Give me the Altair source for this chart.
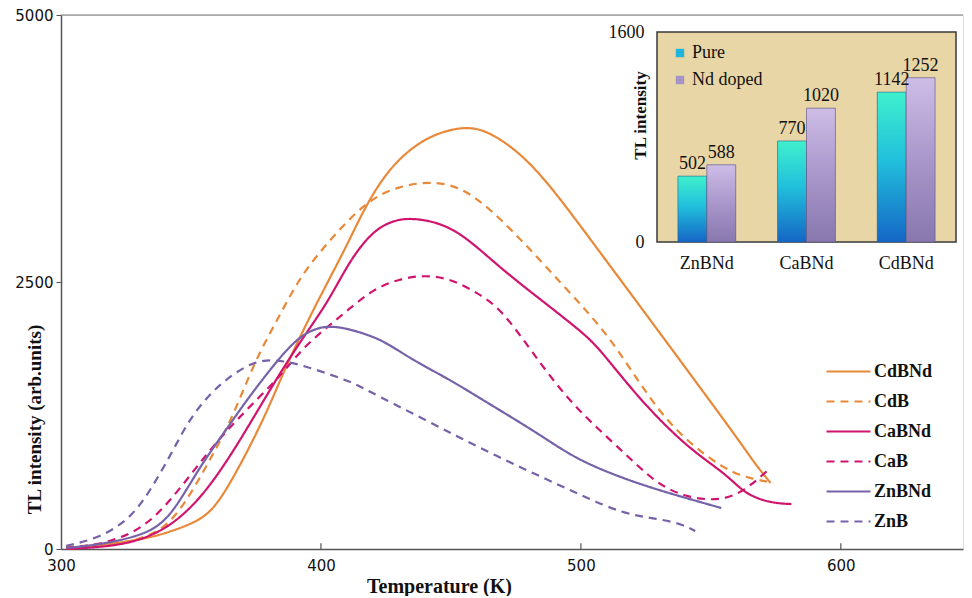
import altair as alt
import pandas as pd

# ---------------- main TL glow curves ----------------
series_names = ["CdBNd", "CdB", "CaBNd", "CaB", "ZnBNd", "ZnB"]
series_colors = ["#e8893a", "#e8893a", "#d0146e", "#d0146e", "#7662a8", "#7662a8"]
series_dash = [[1, 0], [8, 6], [1, 0], [8, 6], [1, 0], [8, 6]]

cdbnd_T = [302, 310, 320, 334, 343, 353, 360, 370, 379, 386, 393, 400, 410, 418, 428, 440, 450, 457, 465, 481, 500, 507, 525, 544, 561, 567, 573]
cdbnd_I = [0, 20, 50, 103, 170, 262, 400, 830, 1270, 1680, 2040, 2380, 2840, 3258, 3620, 3848, 3930, 3950, 3910, 3633, 3020, 2790, 2200, 1573, 1011, 796, 618]

cdb_T = [302, 310, 321, 327, 340, 350, 357, 364, 370, 376, 383, 391, 400, 417, 430, 443, 456, 473, 494, 511, 526, 539, 556, 566, 574]
cdb_I = [20, 30, 47, 75, 169, 515, 824, 1133, 1479, 1826, 2135, 2509, 2800, 3258, 3400, 3446, 3380, 3006, 2444, 2000, 1414, 1039, 730, 655, 620]

cabnd_T = [302, 310, 325, 340, 353, 364, 374, 384, 393, 403, 411, 420, 428, 435, 445, 455, 469, 484, 500, 507, 522, 541, 556, 563, 573, 581]
cabnd_I = [0, 10, 40, 169, 449, 824, 1227, 1638, 1976, 2322, 2700, 2980, 3080, 3099, 3060, 2940, 2631, 2345, 2041, 1882, 1414, 946, 702, 515, 430, 421]

cab_T = [302, 315, 327, 336, 346, 356, 366, 376, 385, 393, 402, 411, 420, 430, 440, 450, 460, 469, 481, 496, 516, 529, 541, 554, 563, 572]
cab_I = [10, 40, 140, 290, 571, 890, 1170, 1414, 1638, 1882, 2069, 2250, 2430, 2530, 2566, 2530, 2400, 2257, 1854, 1358, 918, 609, 478, 450, 543, 740]

znbnd_T = [302, 315, 334, 343, 353, 364, 372, 383, 391, 398, 404, 411, 420, 426, 436, 450, 461, 484, 499, 522, 540, 554]
znbnd_I = [10, 40, 140, 328, 758, 1133, 1414, 1760, 1976, 2069, 2088, 2060, 1990, 1919, 1760, 1580, 1414, 1077, 824, 609, 480, 384]

znb_T = [302, 315, 327, 335, 343, 349, 357, 366, 376, 386, 394, 411, 416, 441, 461, 484, 500, 516, 530, 538, 544]
znb_I = [30, 103, 290, 571, 918, 1199, 1451, 1638, 1779, 1760, 1713, 1573, 1508, 1198, 946, 683, 505, 330, 280, 240, 169]

x_ticks_inner = [400, 500, 600]

# ---------------- inset bar data ----------------
inset_categories = ["ZnBNd", "CaBNd", "CdBNd"]
inset_series = ["Pure", "Nd doped"]
pure_values = [502, 770, 1142]
nd_values = [588, 1020, 1252]

# ---------------- build tables ----------------
curves = {
    "CdBNd": (cdbnd_T, cdbnd_I),
    "CdB": (cdb_T, cdb_I),
    "CaBNd": (cabnd_T, cabnd_I),
    "CaB": (cab_T, cab_I),
    "ZnBNd": (znbnd_T, znbnd_I),
    "ZnB": (znb_T, znb_I),
}
rows = []
for name, (ts, vals) in curves.items():
    for i, (t, v) in enumerate(zip(ts, vals)):
        rows.append({"series": name, "T": t, "I": v, "order": i})
lines_df = pd.DataFrame(rows)

bar_rows = []
for c, p, n in zip(inset_categories, pure_values, nd_values):
    bar_rows.append({"category": c, "kind": "Pure", "value": p})
    bar_rows.append({"category": c, "kind": "Nd doped", "value": n})
bars_df = pd.DataFrame(bar_rows)

SERIF = "Liberation Serif"
SANS = "DejaVu Sans"
W, H = 902, 534

x_main = alt.X(
    "T:Q",
    scale=alt.Scale(domain=[300, 647], nice=False, zero=False),
    axis=alt.Axis(
        values=[300, 400, 500, 600], format="d", ticks=False, grid=False, labelFlush=False,
        labelFont=SANS, labelFontSize=15, labelPadding=9, labelColor="#111",
        domainColor="#555", domainWidth=1.5,
        title="Temperature (K)", titleFont=SERIF, titleFontSize=20,
        titleFontWeight="bold", titleColor="#111", titleX=378, titlePadding=3,
    ),
)
y_main = alt.Y(
    "I:Q",
    scale=alt.Scale(domain=[0, 5000], nice=False),
    axis=alt.Axis(
        values=[0, 2500, 5000], format="d", tickSize=5, tickColor="#555", grid=False,
        labelFlush=False, labelFont=SANS, labelFontSize=15, labelPadding=3,
        labelColor="#111", domainColor="#555", domainWidth=1.5,
        title="TL intensity (arb.units)", titleFont=SERIF, titleFontSize=19,
        titleFontWeight="bold", titleColor="#111", titleX=-17, titleY=404,
        titleBaseline="bottom", titleAngle=270,
    ),
)

legend_main = alt.Legend(
    orient="none", legendX=775, legendY=344, title=None,
    symbolType="M-2,0L2,0", symbolSize=484, symbolStrokeWidth=2.2,
    labelFont=SERIF, labelFontWeight="bold", labelFontSize=18,
    labelColor="#111", rowPadding=8, labelOffset=13,
)

lines = alt.Chart(lines_df).mark_line(strokeWidth=2.2, interpolate="basis").encode(
    x=x_main,
    y=y_main,
    order="order:Q",
    color=alt.Color("series:N", scale=alt.Scale(domain=series_names, range=series_colors), legend=legend_main),
    strokeDash=alt.StrokeDash("series:N", scale=alt.Scale(domain=series_names, range=series_dash), legend=legend_main),
)

ticks_df = pd.DataFrame({"T": x_ticks_inner, "I": [0] * 3, "I2": [55] * 3})
inner_ticks = alt.Chart(ticks_df).mark_rule(color="#555", strokeWidth=1.2).encode(
    x=x_main, y=y_main, y2="I2:Q"
)

top_df = pd.DataFrame({"T": [300], "T2": [647], "I": [5000]})
top_line = alt.Chart(top_df).mark_rule(color="#777", strokeWidth=1.2).encode(
    x=x_main, x2="T2:Q", y=y_main
)

main = alt.layer(lines, inner_ticks, top_line)

# ---------------- inset ----------------
x_in = alt.X(
    "category:N",
    sort=inset_categories,
    scale=alt.Scale(domain=inset_categories, range=[596, 895], paddingInner=0.42, paddingOuter=0.21),
    axis=alt.Axis(
        orient="bottom", offset=-307, domain=False, ticks=False, labelAngle=0,
        labelFont=SERIF, labelFontSize=18, labelPadding=12, labelColor="#111", title=None,
    ),
)
y_in = alt.Y(
    "value:Q",
    scale=alt.Scale(domain=[0, 1600], range=[227, 17], nice=False),
    axis=alt.Axis(
        orient="left", offset=-596, values=[0, 1600], format="d", domain=False, ticks=False,
        grid=False, labelFont=SERIF, labelFontSize=18, labelPadding=13,
        labelColor="#111", labelFlush=False,
        title="TL intensity", titleFont=SERIF, titleFontSize=17, titleFontWeight="bold",
        titleColor="#111", titleX=-8, titleY=100, titleBaseline="bottom", titleAngle=270,
    ),
)
xo_in = alt.XOffset("kind:N", scale=alt.Scale(domain=inset_series, paddingInner=0, paddingOuter=0))

frame_df = pd.DataFrame({"a": [0]})
frame = alt.Chart(frame_df).mark_rect(fill="#e8d6a6", stroke="#3a3a3a", strokeWidth=1.5).encode(
    x=alt.value(596), x2=alt.value(895), y=alt.value(17), y2=alt.value(227)
)

legend_in = alt.Legend(
    orient="none", legendX=610, legendY=29, title=None, symbolType="square",
    symbolSize=70, symbolStrokeWidth=0.5, labelFont=SERIF, labelFontSize=18,
    labelColor="#111", rowPadding=9, labelOffset=3,
)

base_bars = alt.Chart(bars_df).mark_bar().encode(
    x=x_in, xOffset=xo_in, y=y_in,
    color=alt.Color("kind:N", scale=alt.Scale(domain=inset_series, range=["#1fb4dc", "#a693c8"]), legend=legend_in),
)

pure_grad = alt.Gradient(
    gradient="linear", x1=0, x2=0, y1=0, y2=1,
    stops=[alt.GradientStop(color="#3ff0cc", offset=0), alt.GradientStop(color="#21c0dc", offset=0.45),
           alt.GradientStop(color="#1566c6", offset=1)],
)
nd_grad = alt.Gradient(
    gradient="linear", x1=0, x2=0, y1=0, y2=1,
    stops=[alt.GradientStop(color="#cdbde6", offset=0), alt.GradientStop(color="#a996cb", offset=0.5),
           alt.GradientStop(color="#8878ae", offset=1)],
)
pure_bars = alt.Chart(bars_df).transform_filter(alt.datum.kind == "Pure").mark_bar(
    color=pure_grad, stroke="#2f5f8f", strokeWidth=0.6
).encode(x=x_in, xOffset=xo_in, y=y_in)
nd_bars = alt.Chart(bars_df).transform_filter(alt.datum.kind == "Nd doped").mark_bar(
    color=nd_grad, stroke="#5f5580", strokeWidth=0.6
).encode(x=x_in, xOffset=xo_in, y=y_in)

bar_labels = alt.Chart(bars_df).mark_text(
    baseline="bottom", dy=-3, font=SERIF, fontSize=18, color="#111"
).encode(x=x_in, xOffset=xo_in, y=y_in, text="value:Q")

inset = alt.layer(frame, base_bars, pure_bars, nd_bars, bar_labels)

chart = (
    alt.layer(main, inset)
    .resolve_scale(x="independent", y="independent", color="independent")
    .resolve_axis(x="independent", y="independent")
    .resolve_legend(color="independent", strokeDash="independent")
    .properties(width=W, height=H, padding={"left": 6, "top": 0, "right": 0, "bottom": 0})
    .configure_view(fill="#fcf1da", stroke=None)
    .configure(background="white")
)

chart.save("out.html", embed_options={"renderer": "svg", "actions": False})
